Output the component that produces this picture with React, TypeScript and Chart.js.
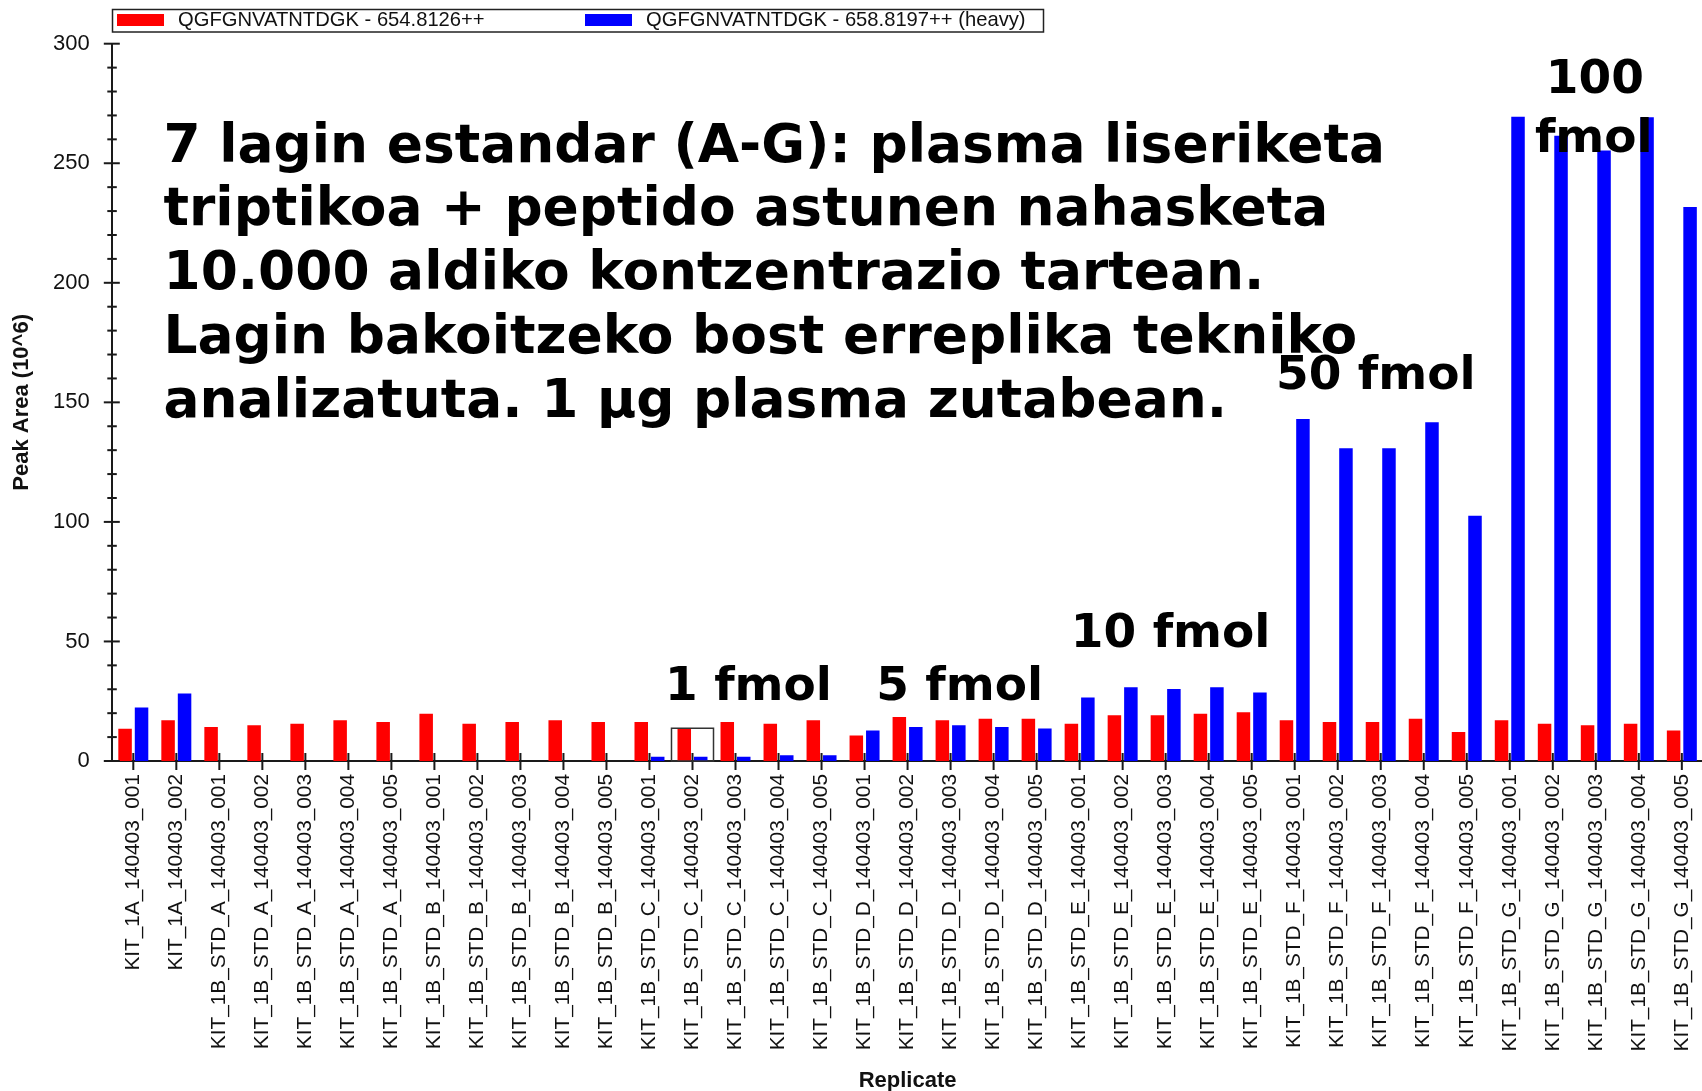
import React, { useEffect, useRef } from "react";
import { Chart, registerables } from "chart.js";

Chart.register(...registerables);

const categories = [
  "KIT_1A_140403_001", "KIT_1A_140403_002",
  "KIT_1B_STD_A_140403_001", "KIT_1B_STD_A_140403_002", "KIT_1B_STD_A_140403_003", "KIT_1B_STD_A_140403_004", "KIT_1B_STD_A_140403_005",
  "KIT_1B_STD_B_140403_001", "KIT_1B_STD_B_140403_002", "KIT_1B_STD_B_140403_003", "KIT_1B_STD_B_140403_004", "KIT_1B_STD_B_140403_005",
  "KIT_1B_STD_C_140403_001", "KIT_1B_STD_C_140403_002", "KIT_1B_STD_C_140403_003", "KIT_1B_STD_C_140403_004", "KIT_1B_STD_C_140403_005",
  "KIT_1B_STD_D_140403_001", "KIT_1B_STD_D_140403_002", "KIT_1B_STD_D_140403_003", "KIT_1B_STD_D_140403_004", "KIT_1B_STD_D_140403_005",
  "KIT_1B_STD_E_140403_001", "KIT_1B_STD_E_140403_002", "KIT_1B_STD_E_140403_003", "KIT_1B_STD_E_140403_004", "KIT_1B_STD_E_140403_005",
  "KIT_1B_STD_F_140403_001", "KIT_1B_STD_F_140403_002", "KIT_1B_STD_F_140403_003", "KIT_1B_STD_F_140403_004", "KIT_1B_STD_F_140403_005",
  "KIT_1B_STD_G_140403_001", "KIT_1B_STD_G_140403_002", "KIT_1B_STD_G_140403_003", "KIT_1B_STD_G_140403_004", "KIT_1B_STD_G_140403_005",
];

const lightLabel = "QGFGNVATNTDGK - 654.8126++";
const heavyLabel = "QGFGNVATNTDGK - 658.8197++ (heavy)";

const lightValues = [
  13.5, 17.0,
  14.2, 14.9, 15.6, 17.0, 16.3,
  19.8, 15.6, 16.3, 17.0, 16.3,
  16.3, 13.7, 16.3, 15.6, 17.0,
  10.7, 18.4, 17.0, 17.7, 17.7,
  15.6, 19.1, 19.1, 19.8, 20.4,
  17.0, 16.3, 16.3, 17.7, 12.1,
  17.0, 15.6, 14.9, 15.6, 12.8,
];

const heavyValues = [
  22.4, 28.2,
  0, 0, 0, 0, 0,
  0, 0, 0, 0, 0,
  1.8, 1.8, 1.8, 2.4, 2.4,
  12.8, 14.2, 14.9, 14.2, 13.6,
  26.6, 30.8, 30.1, 30.8, 28.7,
  143.0, 130.8, 130.8, 141.7, 102.6,
  269.5, 261.5, 255.3, 269.2, 231.7,
];

const yMin = 0;
const yMax = 300;
const yMajorStep = 50;
const yMinorStep = 10;

const selectedIndex = 13;

const descriptionLines = [
  "7 lagin estandar (A-G): plasma liseriketa",
  "triptikoa + peptido astunen nahasketa",
  "10.000 aldiko kontzentrazio tartean.",
  "Lagin bakoitzeko bost erreplika tekniko",
  "analizatuta. 1 µg plasma zutabean.",
];

const groupLabels = ["1 fmol", "5 fmol", "10 fmol", "50 fmol", "100", "fmol"];
const groupCenterIndex = [14, 19, 24, 29, 34, 34];
const groupLabelValue = [25.5, 25.5, 47.8, 155.7, 279.3, 254.8];

const SANS = "'Liberation Sans', Arial, sans-serif";
const BOLD_TEXT = "'DejaVu Sans', sans-serif";
const AXIS = "#1a1a1a";

const overlayPlugin = {
  id: "overlay",
  afterDatasetsDraw(chart: any) {
    const { ctx, chartArea, scales } = chart;
    const xs = scales.x;
    const ys = scales.y;
    ctx.save();
    ctx.strokeStyle = AXIS;
    ctx.lineWidth = 2;
    const ax = chartArea.left;
    for (let v = yMin; v <= yMax; v += yMinorStep) {
      const py = ys.getPixelForValue(v);
      const major = v % yMajorStep === 0;
      ctx.beginPath();
      ctx.moveTo(ax - (major ? 8 : 4.5), py);
      ctx.lineTo(ax + (major ? 8 : 5), py);
      ctx.stroke();
    }
    const base = ys.getPixelForValue(0);
    categories.forEach((_, i) => {
      const px = xs.getPixelForValue(i);
      ctx.beginPath();
      ctx.moveTo(px, base - 8);
      ctx.lineTo(px, base + 9);
      ctx.stroke();
    });

    // selection rectangle
    const cw = xs.getPixelForValue(1) - xs.getPixelForValue(0);
    const cx = xs.getPixelForValue(selectedIndex);
    const top = ys.getPixelForValue(Math.max(lightValues[selectedIndex], heavyValues[selectedIndex]));
    ctx.lineWidth = 1.5;
    ctx.strokeStyle = "#333";
    ctx.strokeRect(cx - cw / 2 + 0.5, top, cw - 1, base - top);

    // annotations
    ctx.fillStyle = "#000";
    ctx.textBaseline = "alphabetic";
    ctx.font = `bold 53.4px ${BOLD_TEXT}`;
    ctx.textAlign = "left";
    descriptionLines.forEach((line, i) => {
      ctx.fillText(line, 163.5, 161.5 + i * 63.8);
    });
    ctx.font = `bold 47px ${BOLD_TEXT}`;
    ctx.textAlign = "center";
    const dxs = [13, 9, 5, -5, -1, -2];
    groupLabels.forEach((t, i) => {
      const px = xs.getPixelForValue(groupCenterIndex[i]) + dxs[i];
      const py = ys.getPixelForValue(groupLabelValue[i]);
      ctx.fillText(t, px, py);
    });

    // legend
    const ds = chart.data.datasets;
    ctx.lineWidth = 1.5;
    ctx.strokeStyle = "#222";
    ctx.strokeRect(112.5, 9.5, 931, 22.5);
    ctx.font = `20.2px ${SANS}`;
    ctx.textAlign = "left";
    ctx.textBaseline = "middle";
    const swX = [117, 585];
    ds.forEach((d: any, i: number) => {
      ctx.fillStyle = d.backgroundColor;
      ctx.fillRect(swX[i], 14, 47, 12);
      ctx.fillStyle = "#111";
      ctx.fillText(d.label, swX[i] + 61, 20.5);
    });
    ctx.restore();
  },
};

export default function App() {
  const ref = useRef<HTMLCanvasElement | null>(null);
  useEffect(() => {
    if (!ref.current) return;
    const chart = new Chart(ref.current, {
      type: "bar",
      data: {
        labels: categories,
        datasets: [
          { label: lightLabel, data: lightValues, backgroundColor: "#ff0000", borderWidth: 0 },
          { label: heavyLabel, data: heavyValues, backgroundColor: "#0000ff", borderWidth: 0 },
        ],
      },
      options: {
        responsive: false,
        animation: false,
        devicePixelRatio: 1,
        layout: { padding: { left: 0, right: 15, top: 43.7, bottom: 0 } },
        datasets: { bar: { categoryPercentage: 0.766, barPercentage: 0.82 } },
        plugins: { legend: { display: false }, tooltip: { enabled: false } },
        scales: {
          x: {
            type: "category",
            offset: true,
            grid: { display: false, drawTicks: false },
            border: { display: true, color: AXIS, width: 2 },
            ticks: {
              autoSkip: false,
              minRotation: 90,
              maxRotation: 90,
              padding: 13,
              color: "#111",
              font: { family: SANS, size: 20.8 },
            },
            title: {
              display: true,
              text: "Replicate",
              color: "#111",
              font: { family: SANS, size: 22, weight: "bold", lineHeight: 0.9 },
              padding: { top: 0, bottom: 0 },
            },
            afterFit: (s: any) => {
              s.height = 330;
            },
          },
          y: {
            min: yMin,
            max: yMax,
            grid: { display: false, drawTicks: false },
            border: { display: true, color: AXIS, width: 2 },
            ticks: {
              stepSize: yMajorStep,
              padding: 22,
              color: "#111",
              font: { family: SANS, size: 22 },
            },
            title: {
              display: true,
              text: "Peak Area (10^6)",
              color: "#111",
              font: { family: SANS, size: 22, weight: "bold", lineHeight: 1.2 },
              padding: { top: 9, bottom: 0 },
            },
            afterFit: (s: any) => {
              s.width = 111.8;
            },
          },
        },
      },
      plugins: [overlayPlugin],
    } as any);
    return () => chart.destroy();
  }, []);
  return (
    <div style={{ position: "fixed", left: 0, top: 0, width: "100vw", height: "100vh", overflow: "hidden", background: "#fff" }}>
      <canvas ref={ref} width={1720} height={1091} style={{ display: "block", width: 1720, height: 1091 }} />
    </div>
  );
}
